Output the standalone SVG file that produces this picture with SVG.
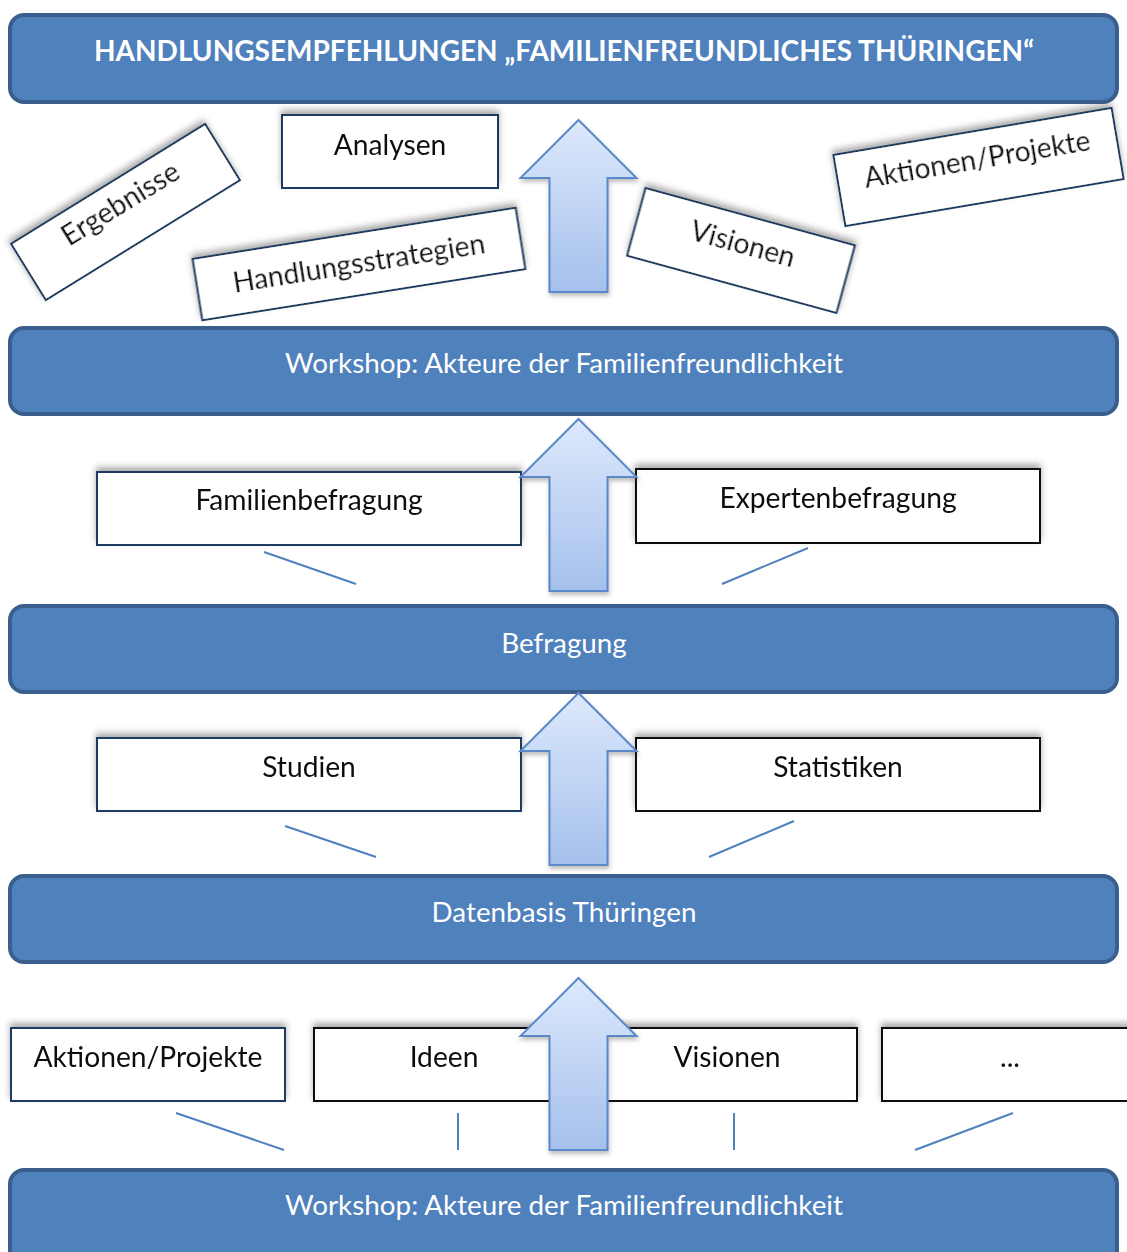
<svg xmlns="http://www.w3.org/2000/svg" width="1127" height="1252" viewBox="0 0 1127 1252">
<defs>
<linearGradient id="ag" x1="0" y1="0" x2="0" y2="1">
<stop offset="0" stop-color="#dde9fc"/>
<stop offset="1" stop-color="#a5c0ec"/>
</linearGradient>
<filter id="sh" x="-10%" y="-30%" width="120%" height="160%">
<feGaussianBlur in="SourceAlpha" stdDeviation="3"/>
<feOffset dx="0" dy="-4" result="b"/>
<feFlood flood-color="#444" flood-opacity="0.45"/>
<feComposite in2="b" operator="in"/>
<feMerge><feMergeNode/><feMergeNode in="SourceGraphic"/></feMerge>
</filter>
<filter id="ash" x="-20%" y="-10%" width="140%" height="120%">
<feGaussianBlur in="SourceAlpha" stdDeviation="2"/>
<feOffset dx="1" dy="3" result="b"/>
<feFlood flood-color="#444" flood-opacity="0.35"/>
<feComposite in2="b" operator="in"/>
<feMerge><feMergeNode/><feMergeNode in="SourceGraphic"/></feMerge>
</filter>
<path id="arrow" d="M0,0 L58,58 L29,58 L29,172 L-29,172 L-29,58 L-58,58 Z"/>
</defs>
<style>
.banner{fill:#4f81bd;stroke:#3a5f8e;stroke-width:4}
.btxt{fill:#ffffff;font-family:"Lato","Open Sans",sans-serif;font-size:27.8px;text-anchor:middle}
.title{fill:#ffffff;font-family:"Lato","Open Sans",sans-serif;font-size:28px;font-weight:bold;text-anchor:middle}
.box{fill:#ffffff;stroke-width:2}
.nv{stroke:#1f3a60}
.bk{stroke:#111111}
.txt{fill:#111111;font-family:"Lato","Open Sans",sans-serif;font-size:28.2px;text-anchor:middle}
.conn{stroke:#4f81bd;stroke-width:2;fill:none}
.arr{fill:url(#ag);stroke:#5a88c8;stroke-width:2}
</style>
<rect width="1127" height="1252" fill="#ffffff"/>

<g id="banner-top">
<rect class="banner" x="10" y="15" width="1107" height="87" rx="14"/>
<text class="title" x="564" y="61">HANDLUNGSEMPFEHLUNGEN „FAMILIENFREUNDLICHES THÜRINGEN“</text>
</g>

<g id="ergebnisse" transform="translate(125.5,212) rotate(-31.7)" filter="url(#sh)">
<rect class="box nv" x="-114" y="-33" width="228" height="66"/>
<text class="txt" x="0" y="0">Ergebnisse</text>
</g>
<g id="analysen" filter="url(#sh)">
<rect class="box nv" x="282" y="115" width="216" height="73"/>
<text class="txt" x="390" y="155">Analysen</text>
</g>
<g id="handlungsstrategien" transform="translate(359,264) rotate(-9)" filter="url(#sh)">
<rect class="box nv" x="-163.5" y="-31" width="327" height="62"/>
<text class="txt" x="0" y="9">Handlungsstrategien</text>
</g>
<g id="visionen-top" transform="translate(741,250.5) rotate(15.3)" filter="url(#sh)">
<rect class="box nv" x="-108.5" y="-35" width="217" height="70"/>
<text class="txt" x="0" y="3">Visionen</text>
</g>
<g id="aktionen-top" transform="translate(978.5,167) rotate(-9.6)" filter="url(#sh)">
<rect class="box nv" x="-141" y="-36" width="282" height="72"/>
<text class="txt" x="0" y="2">Aktionen/Projekte</text>
</g>

<g id="banner-workshop-1">
<rect class="banner" x="10" y="328" width="1107" height="86" rx="14"/>
<text class="btxt" x="564" y="373">Workshop: Akteure der Familienfreundlichkeit</text>
</g>

<g id="familienbefragung" filter="url(#sh)">
<rect class="box nv" x="97" y="472" width="424" height="73"/>
<text class="txt" x="309" y="510">Familienbefragung</text>
</g>
<g id="expertenbefragung" filter="url(#sh)">
<rect class="box bk" x="636" y="469" width="404" height="74"/>
<text class="txt" x="838" y="508">Expertenbefragung</text>
</g>

<g id="banner-befragung">
<rect class="banner" x="10" y="606" width="1107" height="86" rx="14"/>
<text class="btxt" x="564" y="653">Befragung</text>
</g>

<g id="studien" filter="url(#sh)">
<rect class="box nv" x="97" y="738" width="424" height="73"/>
<text class="txt" x="309" y="777">Studien</text>
</g>
<g id="statistiken" filter="url(#sh)">
<rect class="box bk" x="636" y="738" width="404" height="73"/>
<text class="txt" x="838" y="777">Statistiken</text>
</g>

<g id="banner-datenbasis">
<rect class="banner" x="10" y="876" width="1107" height="86" rx="14"/>
<text class="btxt" x="564" y="922">Datenbasis Thüringen</text>
</g>

<g id="aktionen-bottom" filter="url(#sh)">
<rect class="box nv" x="11" y="1028" width="274" height="73"/>
<text class="txt" x="148" y="1067">Aktionen/Projekte</text>
</g>
<g id="ideen" filter="url(#sh)">
<rect class="box bk" x="314" y="1028" width="260" height="73"/>
<text class="txt" x="444" y="1067">Ideen</text>
</g>
<g id="visionen-bottom" filter="url(#sh)">
<rect class="box bk" x="597" y="1028" width="260" height="73"/>
<text class="txt" x="727" y="1067">Visionen</text>
</g>
<g id="etc" filter="url(#sh)">
<rect class="box bk" x="882" y="1028" width="260" height="73"/>
<text class="txt" x="1010" y="1067">...</text>
</g>

<g id="banner-workshop-2">
<rect class="banner" x="10" y="1170" width="1107" height="96" rx="14"/>
<text class="btxt" x="564" y="1215">Workshop: Akteure der Familienfreundlichkeit</text>
</g>

<g id="connectors">
<line class="conn" x1="264" y1="552" x2="356" y2="584"/>
<line class="conn" x1="808" y1="548" x2="722" y2="584"/>
<line class="conn" x1="285" y1="826" x2="376" y2="857"/>
<line class="conn" x1="794" y1="821" x2="709" y2="857"/>
<line class="conn" x1="176" y1="1113" x2="284" y2="1150"/>
<line class="conn" x1="458" y1="1113" x2="458" y2="1150"/>
<line class="conn" x1="734" y1="1113" x2="734" y2="1150"/>
<line class="conn" x1="1013" y1="1113" x2="915" y2="1150"/>
<use class="arr" href="#arrow" transform="translate(578.5,120)" filter="url(#ash)"/>
<use class="arr" href="#arrow" transform="translate(578.5,419)" filter="url(#ash)"/>
<use class="arr" href="#arrow" transform="translate(578.5,693)" filter="url(#ash)"/>
<use class="arr" href="#arrow" transform="translate(578.5,978)" filter="url(#ash)"/>
</g>
</svg>
